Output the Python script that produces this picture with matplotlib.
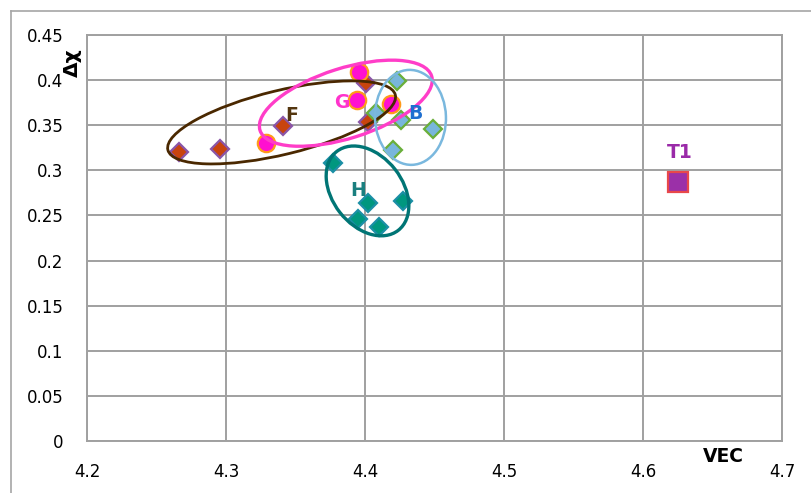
import matplotlib
matplotlib.use("Agg")
import matplotlib.pyplot as plt
from matplotlib.patches import Ellipse
from matplotlib.lines import Line2D
import matplotlib.transforms as mtransforms

plt.rcParams['font.family'] = ['DejaVu Sans']

# ---- data ----
F_x = [4.266, 4.296, 4.341, 4.401, 4.402]
F_y = [0.320, 0.324, 0.349, 0.397, 0.354]

G_x = [4.329, 4.396, 4.394, 4.419]
G_y = [0.330, 0.409, 0.378, 0.373]

B_x = [4.423, 4.408, 4.426, 4.449, 4.420]
B_y = [0.399, 0.363, 0.356, 0.346, 0.323]

H_x = [4.377, 4.402, 4.427, 4.395, 4.410]
H_y = [0.308, 0.264, 0.266, 0.246, 0.237]

T1_x = [4.625]
T1_y = [0.2875]

x_ticks = [4.2, 4.3, 4.4, 4.5, 4.6, 4.7]
y_ticks = [0, 0.05, 0.1, 0.15, 0.2, 0.25, 0.3, 0.35, 0.4, 0.45]
x_tick_labels = ["4.2", "4.3", "4.4", "4.5", "4.6", "4.7"]
y_tick_labels = ["0", "0.05", "0.1", "0.15", "0.2", "0.25", "0.3", "0.35", "0.4", "0.45"]

# group labels: (text, x, y, colour)
group_labels = [("F", 4.347, 0.361, "#54360F"),
                ("G", 4.383, 0.375, "#FF33CC"),
                ("B", 4.4365, 0.3625, "#1F6FD0"),
                ("H", 4.395, 0.278, "#1A7F7F"),
                ("T1", 4.6265, 0.320, "#9A2AA8")]

# ellipses: centre (data), semi-axes (px), angle (deg), colour, linewidth
ellipses = [((4.340, 0.3531), 117, 32, 13.6, "#4A2800", 2.0),
            ((4.3862, 0.3744), 90, 35, 17.6, "#FF3DC8", 2.4),
            ((4.4327, 0.3587), 47.5, 35.5, 92, "#7AB8DE", 1.8),
            ((4.4018, 0.2772), 50, 35, -52, "#007575", 2.4)]

fig = plt.figure(figsize=(8.11, 4.93), dpi=100)
ax = fig.add_axes([87/811, 1-441/493, (782-87)/811, (441-35)/493])

ax.set_xlim(4.2, 4.7)
ax.set_ylim(0, 0.45)
ax.set_xticks(x_ticks)
ax.set_xticklabels(x_tick_labels)
ax.set_yticks(y_ticks)
ax.set_yticklabels(y_tick_labels)
ax.tick_params(axis='both', length=0, labelsize=12, colors='black')
ax.tick_params(axis='x', pad=16)
ax.tick_params(axis='y', pad=17)
ax.grid(True, color='#A0A0A0', linewidth=1.4)
ax.set_axisbelow(True)
for s in ax.spines.values():
    s.set_color('#A0A0A0')
    s.set_linewidth(1.4)

ax.plot(F_x, F_y, linestyle='none', marker='D', ms=9.5, mfc='#C8440E', mec='#8A55A8', mew=1.6, zorder=3)
ax.plot(B_x, B_y, linestyle='none', marker='D', ms=9.5, mfc='#78B6DC', mec='#6AAF3A', mew=1.6, zorder=3)
ax.plot(H_x, H_y, linestyle='none', marker='D', ms=9.5, mfc='#00977F', mec='#1B8FA5', mew=1.6, zorder=3)
ax.plot(G_x, G_y, linestyle='none', marker='o', ms=12.5, mfc='#FF10D0', mec='#FF9A1A', mew=1.6, zorder=4)
ax.plot(T1_x, T1_y, linestyle='none', marker='s', ms=14, mfc='#9B30A8', mec='#E8484A', mew=1.6, zorder=4)

for (cx, cy), a, b, ang, col, lw in ellipses:
    tr = fig.dpi_scale_trans + mtransforms.ScaledTranslation(cx, cy, ax.transData)
    e = Ellipse((0, 0), 2*a/100, 2*b/100, angle=ang, transform=tr,
                fill=False, edgecolor=col, linewidth=lw, zorder=5)
    ax.add_patch(e)

for txt, x, y, col in group_labels:
    ax.text(x, y, txt, color=col, fontsize=13.5, fontweight='bold', ha='center', va='center', zorder=6)

ax.text(0.915, -0.039, "VEC", transform=ax.transAxes, fontsize=13.5, fontweight='bold',
        ha='center', va='center')
ax.text(-0.0216, 0.933, "Δχ", transform=ax.transAxes, fontsize=14.5, fontweight='bold',
        ha='center', va='center', rotation=90)

# outer chart frame
fig.add_artist(Line2D([11/811, 1.0], [1-11/493, 1-11/493], transform=fig.transFigure, color='#A6A6A6', linewidth=1.2))
fig.add_artist(Line2D([11/811, 11/811], [0.0, 1-11/493], transform=fig.transFigure, color='#A6A6A6', linewidth=1.2))

fig.savefig("out.png", dpi=100)
